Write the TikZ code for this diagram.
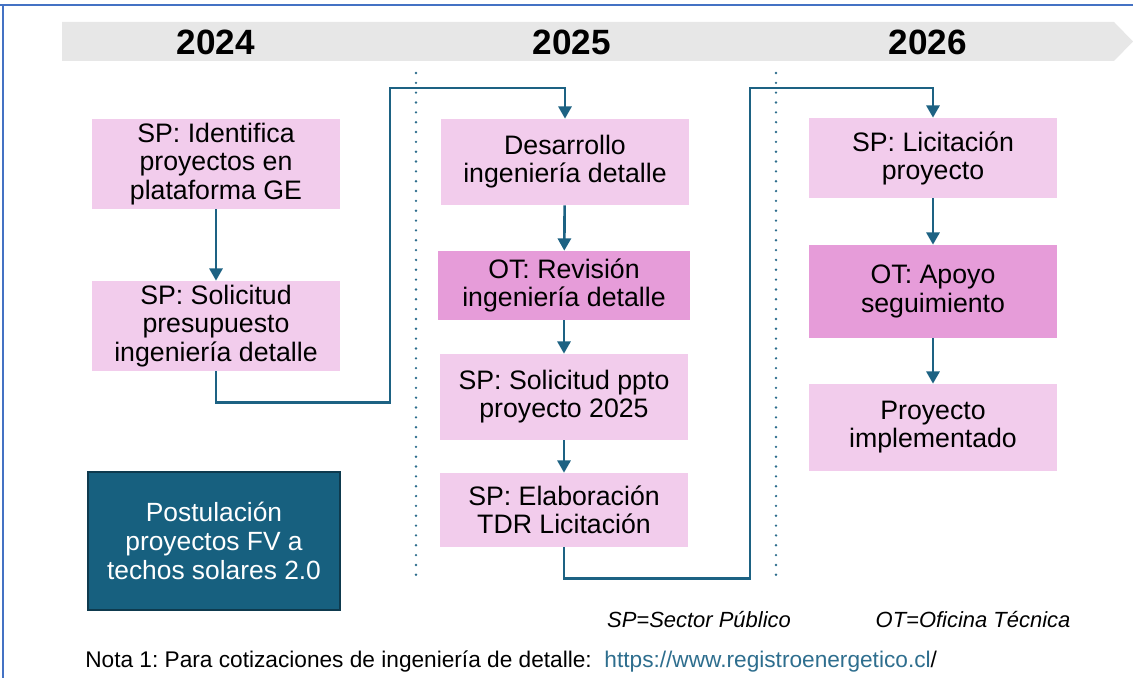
\documentclass[tikz,border=0pt]{standalone}
\usepackage{fontspec}
\setmainfont{Liberation Sans}
\usetikzlibrary{arrows.meta}
\definecolor{framecol}{HTML}{4472C4}
\definecolor{bannercol}{HTML}{E7E7E7}
\definecolor{linkcol}{HTML}{1D6283}
\definecolor{dotcol}{HTML}{2D6D8C}
\definecolor{spcol}{HTML}{F2CCEC}
\definecolor{otcol}{HTML}{E69CD9}
\definecolor{postcol}{HTML}{17607F}
\definecolor{postedge}{HTML}{0E3A4E}
\definecolor{urlcol}{HTML}{2E6E8E}
\frenchspacing
\begin{document}
\begin{tikzpicture}
[x=0.02cm,y=-0.02cm,
  spbox/.style={shape=rectangle,fill=spcol,inner sep=0pt,align=center,
    minimum width=4.96cm,font=\fontsize{15.2}{16}\selectfont},%
  otbox/.style={spbox,fill=otcol},%
  yearlabel/.style={font=\fontsize{20}{22}\selectfont\bfseries},%
  link/.style={draw=linkcol,line width=1.5pt,-{Triangle[width=7.5pt,length=7pt]}},%
  elbow/.style={link,rounded corners=0pt},%
  divider/.style={draw=dotcol,line width=1.5pt,line cap=round,
    dash pattern=on 0pt off 5.6pt}]
\useasboundingbox (0,0) rectangle (1133,678);
%% frame and timeline
\draw[framecol,line width=1.6pt] (0,5) -- (1133,5);
\draw[framecol,line width=1.2pt] (3,5) -- (3,678);
\fill[bannercol] (62,22) -- (1114,22) -- (1133,41.5) -- (1114,61) -- (62,61) -- cycle;
\foreach \nodename/\x/\yr in {y24/216/2024, y25/572/2025, y26/928/2026} {
  \node (\nodename) at (\x,42) [yearlabel] {\yr};
}
%% dividers
\draw[divider] (416,73) -- (416,578);
\draw[divider] (776,73) -- (776,580);
%% 2024
\node (b1) at (216,164) [spbox,minimum height=1.8cm]
  {SP: Identifica\\proyectos en\\plataforma GE};
\node (b2) at (216,326) [spbox,minimum height=1.8cm]
  {SP: Solicitud\\presupuesto\\ingeniería detalle};
\node (post) at (214,541) [shape=rectangle,fill=postcol,draw=postedge,line width=1.3pt,
  minimum width=5.04cm,minimum height=2.76cm,align=center,text=white,
  font=\fontsize{15}{16.5}\selectfont]
  {Postulación\\proyectos FV a\\techos solares 2.0};
%% 2025
\node (c1) at (565,162) [spbox,minimum height=1.72cm] {Desarrollo\\ingeniería detalle};
\node (c2) at (564,285.5) [otbox,minimum width=5.04cm,minimum height=1.38cm]
  {OT: Revisión\\ingeniería detalle};
\node (c3) at (564,397) [spbox,minimum height=1.72cm] {SP: Solicitud ppto\\proyecto 2025};
\node (c4) at (564,510) [spbox,minimum height=1.48cm] {SP: Elaboración\\TDR Licitación};
%% 2026
\node (d1) at (933,158) [spbox,minimum height=1.6cm] {SP: Licitación\\proyecto};
\node (d2) at (933,291.5) [otbox,minimum height=1.86cm] {OT: Apoyo\\seguimiento};
\node (d3) at (933,427.5) [spbox,minimum height=1.74cm] {Proyecto\\implementado};
%% arrows inside each year
\path
\foreach \startnode/\endnode in {b1/b2, c1/c2, c2/c3, c3/c4, d1/d2, d2/d3} {
  (\startnode) edge[link] (\endnode)
};
%% arrows between years
\draw[elbow] (b2.south) -- ++(0,31) -| (390,88) -| (c1.north);
\draw[elbow] (c4.south) -- ++(0,31) -| (750,88) -| (d1.north);
%% legend and note
\node (legsp) at (699,620) [font=\fontsize{12.5}{14}\selectfont\itshape] {SP=Sector Público};
\node (legot) at (973,620) [font=\fontsize{12.5}{14}\selectfont\itshape] {OT=Oficina Técnica};
\node (note) at (85,662) [anchor=west,inner sep=0pt,font=\fontsize{12.9}{14}\selectfont]
  {Nota 1: Para cotizaciones de ingeniería de detalle:\ \ \textcolor{urlcol}{https://www.registroenergetico.cl}/};
\end{tikzpicture}
\end{document}
